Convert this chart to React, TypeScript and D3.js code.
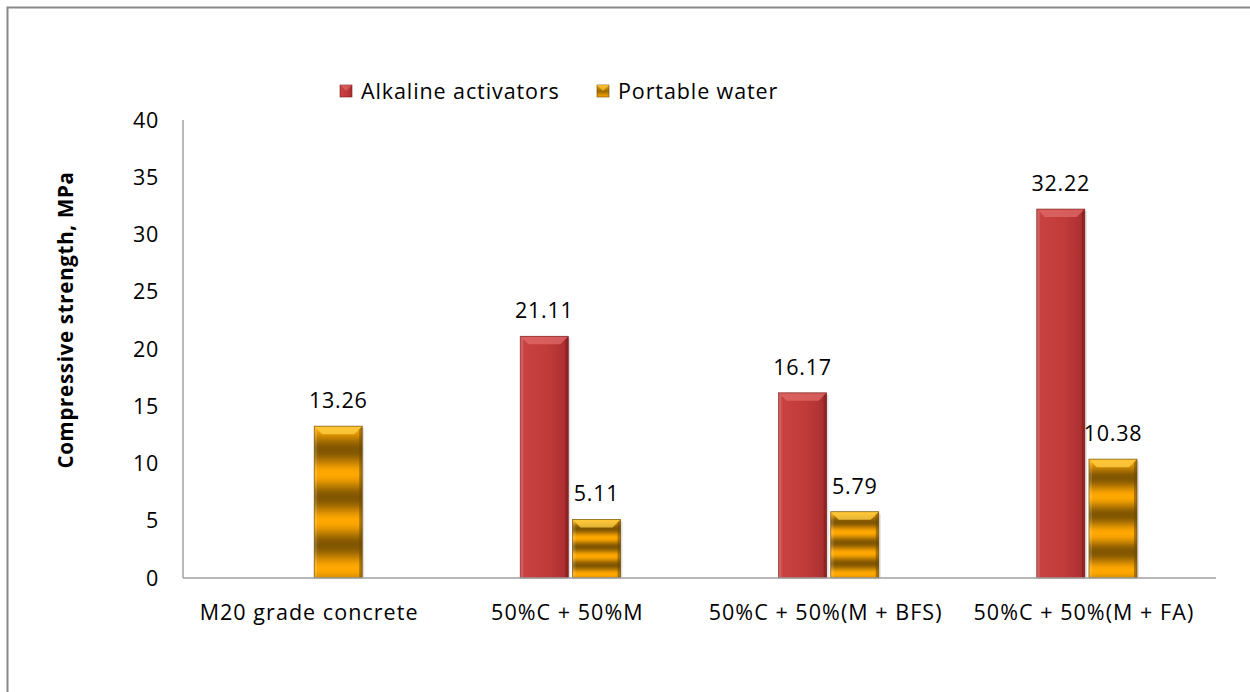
import React from "react";
import * as d3 from "d3";

// Compressive strength of concrete mixes, MPa
const categories = [
  "M20 grade concrete",
  "50%C + 50%M",
  "50%C + 50%(M + BFS)",
  "50%C + 50%(M + FA)",
];
const seriesNames = ["Alkaline activators", "Portable water"];
const alkalineValues: (number | null)[] = [null, 21.11, 16.17, 32.22];
const waterValues: (number | null)[] = [13.26, 5.11, 5.79, 10.38];
const yTicks = [0, 5, 10, 15, 20, 25, 30, 35, 40];

const W = 1250;
const H = 692;
const margin = { left: 183, right: 34, top: 120, bottom: 114 };
const FONT = "'Open Sans', 'Noto Sans', sans-serif";
const LS = 0.7;

export default function App() {
  const plotW = W - margin.left - margin.right;
  const baseY = H - margin.bottom;

  const x0 = d3
    .scaleBand<string>()
    .domain(categories)
    .range([margin.left, margin.left + plotW])
    .paddingInner(0)
    .paddingOuter(0);
  const groupPad = 79;
  const x1 = d3
    .scaleBand<number>()
    .domain([0, 1])
    .range([groupPad, x0.bandwidth() - groupPad])
    .paddingInner(0.08);
  const y = d3.scaleLinear().domain([0, 40]).range([baseY, margin.top]);

  const series = [alkalineValues, waterValues];
  const bw = x1.bandwidth();

  const bars: React.ReactNode[] = [];
  series.forEach((vals, si) => {
    vals.forEach((v, ci) => {
      if (v == null) return;
      const bx = (x0(categories[ci]) ?? 0) + (x1(si) ?? 0);
      const by = y(v);
      const bh = baseY - by;
      const bev = Math.min(8, bh / 4);
      const fill = si === 0 ? "url(#redGrad)" : "url(#goldGrad)";
      const bevelLight = si === 0 ? "#e06a6a" : "#ffd24a";
      const edge = si === 0 ? "#7a1c1c" : "#6b4a00";
      bars.push(
        <g key={`b${si}-${ci}`}>
          {/* soft drop shadow */}
          <rect x={bx + 2} y={by + 2} width={bw} height={bh - 2} fill="#000" opacity={0.12} />
          <rect x={bx} y={by} width={bw} height={bh} fill={fill} />
          {/* top bevel */}
          <polygon
            points={`${bx},${by} ${bx + bw},${by} ${bx + bw - bev},${by + bev} ${bx + bev},${by + bev}`}
            fill={bevelLight}
            opacity={0.75}
          />
          {/* right bevel */}
          <polygon
            points={`${bx + bw},${by} ${bx + bw},${baseY} ${bx + bw - 3},${baseY} ${bx + bw - 3},${by + 3}`}
            fill={edge}
            opacity={0.55}
          />
          {/* left bevel */}
          <polygon
            points={`${bx},${by} ${bx + 3},${by + 3} ${bx + 3},${baseY} ${bx},${baseY}`}
            fill="#fff"
            opacity={0.15}
          />
          <rect x={bx} y={by} width={bw} height={bh} fill="none" stroke={edge} strokeWidth={0.8} opacity={0.8} />
          <text
            x={bx + bw / 2}
            y={by - 18}
            textAnchor="middle"
            fontSize={21.5}
            letterSpacing={LS}
            fill="#000"
            fontFamily={FONT}
          >
            {v.toFixed(2)}
          </text>
        </g>
      );
    });
  });

  // gold band stops: about three bright/dark cycles over the bar height
  const goldStops: { o: number; c: string }[] = [];
  const cycles = 3.2;
  const n = 64;
  for (let i = 0; i <= n; i++) {
    const t = i / n;
    const phase = Math.cos(t * cycles * 2 * Math.PI);
    const k = (phase + 1) / 2; // 1 = bright, 0 = dark
    const c = d3.interpolateRgb("#815600", "#ffa800")(k);
    goldStops.push({ o: t, c });
  }

  const legendY = 91;
  const legendItems = [
    { x: 340, name: seriesNames[0], fill: "url(#redGrad)", edge: "#7a1c1c", light: "#e06a6a" },
    { x: 597, name: seriesNames[1], fill: "url(#goldLegend)", edge: "#6b4a00", light: "#ffd24a" },
  ];

  return (
    <svg width={W} height={H} style={{ position: "absolute", left: 0, top: 0, background: "#fff" }}>
      <defs>
        <linearGradient id="redGrad" x1="0" x2="1" y1="0" y2="0">
          <stop offset="0" stopColor="#c94343" />
          <stop offset="0.6" stopColor="#c03a3a" />
          <stop offset="1" stopColor="#a82e2e" />
        </linearGradient>
        <linearGradient id="goldGrad" x1="0" x2="0" y1="0" y2="1">
          {goldStops.map((s, i) => (
            <stop key={i} offset={s.o} stopColor={s.c} />
          ))}
        </linearGradient>
        <linearGradient id="goldLegend" x1="0" x2="0" y1="0" y2="1">
          <stop offset="0" stopColor="#ffb000" />
          <stop offset="0.5" stopColor="#9a6800" />
          <stop offset="1" stopColor="#ffa800" />
        </linearGradient>
      </defs>

      {/* chart frame */}
      <rect x={7.5} y={7.5} width={W + 10} height={H + 10} fill="none" stroke="#888" strokeWidth={2} />

      {/* legend */}
      {legendItems.map((it, i) => (
        <g key={`lg${i}`}>
          <rect x={it.x} y={legendY - 6} width={12} height={12} fill={it.fill} stroke={it.edge} strokeWidth={0.6} />
          <polygon
            points={`${it.x},${legendY - 6} ${it.x + 12},${legendY - 6} ${it.x + 6},${legendY}`}
            fill={it.light}
            opacity={0.6}
          />
          <text x={it.x + 21} y={legendY + 7.5} fontSize={21.5} letterSpacing={0.9} fontFamily={FONT} fill="#000">
            {it.name}
          </text>
        </g>
      ))}

      {/* y axis */}
      <line x1={margin.left} x2={margin.left} y1={margin.top} y2={baseY} stroke="#a0a0a0" strokeWidth={1.5} />
      {yTicks.map((t) => (
        <text
          key={`yt${t}`}
          x={159}
          y={y(t) + 7.5}
          textAnchor="end"
          fontSize={21.5}
          letterSpacing={LS}
          fontFamily={FONT}
          fill="#000"
        >
          {t}
        </text>
      ))}
      <text
        transform={`translate(73,${(margin.top + baseY) / 2 - 29}) rotate(-90)`}
        textAnchor="middle"
        fontSize={20.5}
        fontWeight="bold"
        letterSpacing={LS}
        fontFamily={FONT}
        fill="#000"
      >
        Compressive strength, MPa
      </text>

      {bars}

      {/* x axis */}
      <line x1={margin.left} x2={margin.left + plotW} y1={baseY} y2={baseY} stroke="#a0a0a0" strokeWidth={1.5} />
      {categories.map((c) => (
        <text
          key={`xc${c}`}
          x={(x0(c) ?? 0) + x0.bandwidth() / 2 - 3}
          y={620}
          textAnchor="middle"
          fontSize={21.5}
          letterSpacing={1.05}
          fontFamily={FONT}
          fill="#000"
        >
          {c}
        </text>
      ))}
    </svg>
  );
}
